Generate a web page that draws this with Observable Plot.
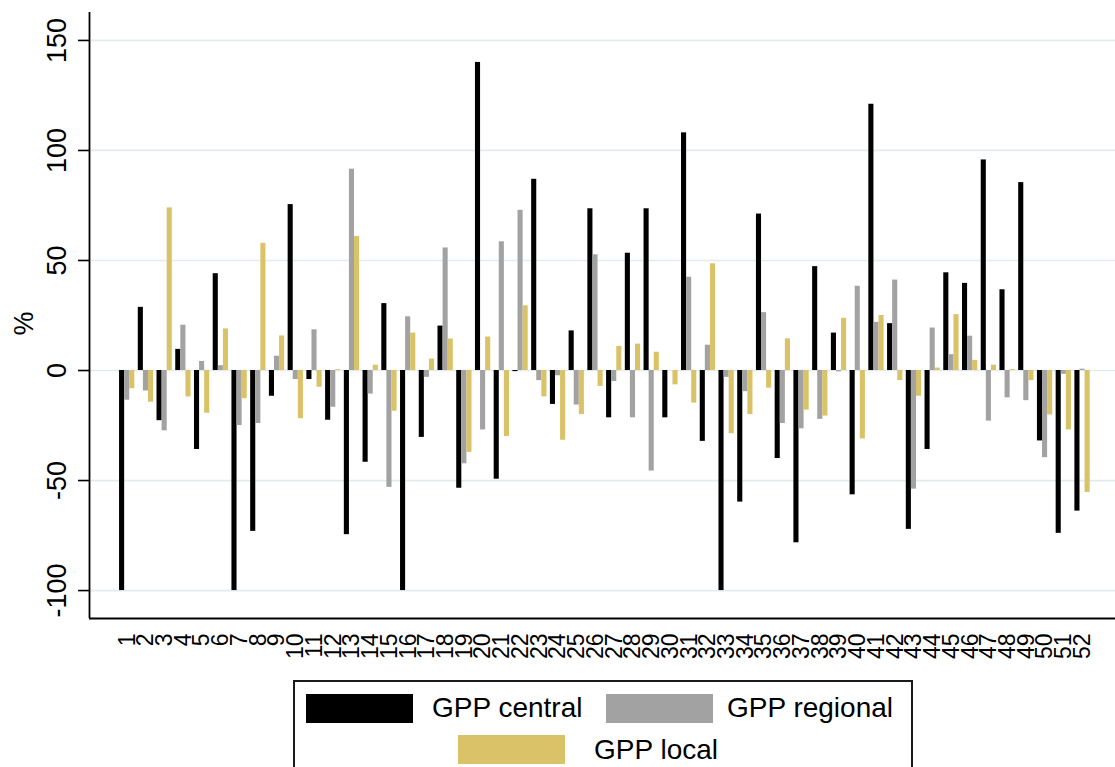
<!DOCTYPE html>
<html>
<head>
<meta charset="utf-8">
<script src="https://cdn.jsdelivr.net/npm/d3@7"></script>
<script src="https://cdn.jsdelivr.net/npm/@observablehq/plot@0.6"></script>
<style>
html, body { margin: 0; padding: 0; background: #fff; overflow: hidden; }
#wrap { position: relative; width: 1115px; height: 767px; font-family: "Liberation Sans", Arial, sans-serif; }
#chart svg { display: block; }
#legend { position: absolute; left: 293px; top: 680px; width: 620px; height: 110px; border: 2px solid #1a1a1a; box-sizing: border-box; }
.sw { position: absolute; width: 107px; height: 29px; }
.lt { position: absolute; font-size: 28px; line-height: 30px; color: #000; white-space: nowrap; }
</style>
</head>
<body>
<div id="wrap">
  <div id="chart"></div>
  <div id="legend"></div>
</div>
<script>
// ---- data ----
const groups = [1,2,3,4,5,6,7,8,9,10,11,12,13,14,15,16,17,18,19,20,21,22,23,24,25,26,
                27,28,29,30,31,32,33,34,35,36,37,38,39,40,41,42,43,44,45,46,47,48,49,50,51,52];
const seriesNames = ["GPP central", "GPP regional", "GPP local"];
const seriesColors = ["#000000", "#a2a2a2", "#d9c267"];
const central = [-100, 28.7, -22.8, 9.6, -35.9, 44, -100, -73.1, -11.7, 75.4, -4.1, -22.6, -74.6,
                 -41.7, 30.4, -100, -30.4, 20.2, -53.5, 140, -49.4, -0.5, 86.9, -15.4, 18, 73.5, -21.5, 53.3,
                 73.5, -21.5, 108, -32.2, -100, -59.8, 71.1, -40, -78.3, 47.2, 17, -56.5, 121, 21.3,
                 -72.2, -35.9, 44.4, 39.6, 95.7, 36.7, 85.4, -32, -74, -63.9];
const regional = [-13.5, -9.3, -27.4, 20.6, 4.1, 2.2, -25, -24.1, 6.5, -4.1, 18.5, -16.7, 91.5,
                  -10.7, -53.1, 24.4, -3.1, 55.7, -42.4, -27, 58.5, 72.8, -4.6, -2.4, -15.7, 52.6, -5, -21.5,
                  -45.7, 0, 42.4, 11.5, -3.1, -9.6, 26.3, -24.1, -26.5, -22.2, -0.6, 38.3, 21.9, 41.1,
                  -53.9, 19.3, 7.2, 15.6, -23, -12.4, -13.7, -39.6, -1.7, 0.6];
const local = [-8.3, -14.4, 73.9, -12, -19.4, 18.9, -12.8, 57.8, 15.7, -21.9, -7.6, 0.4, 60.9,
               2.4, -18.5, 17, 5.2, 14.3, -37.2, 15.2, -30, 29.4, -12, -31.7, -20, -7.2, 10.9, 12,
               8.3, -6.5, -14.8, 48.5, -28.7, -20, -8, 14.4, -18, -20.7, 23.7, -31.1, 25, -4.6,
               -11.7, 1.1, 25.4, 4.6, 2.4, 0.4, -4.6, -20.2, -27, -55.4];
const yTicks = [-100, -50, 0, 50, 100, 150];
const yLabel = "%";

// ---- layout ----
const xDomain = [-1.012, 53.76];
const yDomain = [-112.7, 162.7];
const barOffsets = [-0.272, 0, 0.272];
const barHalf = 0.136;

const seriesValues = [central, regional, local];
const rows = [];
groups.forEach((g, i) => {
  seriesValues.forEach((vals, k) => {
    rows.push({group: g, k, series: seriesNames[k], value: vals[i]});
  });
});

const chart = Plot.plot({
  width: 1115,
  height: 680,
  marginLeft: 89,
  marginRight: 0,
  marginTop: 12,
  marginBottom: 62,
  style: {background: "transparent", fontFamily: "'Liberation Sans', Arial, sans-serif", color: "#000"},
  x: {domain: xDomain, axis: null},
  y: {domain: yDomain, ticks: yTicks, tickSize: 11, tickFormat: () => "", label: null},
  color: {domain: seriesNames, range: seriesColors},
  marks: [
    Plot.ruleY(yTicks, {stroke: "#e3ebee", strokeWidth: 1.7}),
    Plot.rect(rows, {
      x1: d => d.group + barOffsets[d.k] - barHalf,
      x2: d => d.group + barOffsets[d.k] + barHalf,
      y1: () => 0,
      y2: "value",
      fill: "series"
    }),
    Plot.ruleX([xDomain[0]], {stroke: "#000", strokeWidth: 1.8}),
    Plot.ruleY([yDomain[0]], {stroke: "#000", strokeWidth: 1.8}),
    Plot.text(yTicks, {y: d => d, text: d => String(d), frameAnchor: "left", dx: -24,
      rotate: -90, textAnchor: "middle", lineAnchor: "bottom", fontSize: 27, fill: "#000"}),
    Plot.text(groups, {x: d => d, text: d => String(d), frameAnchor: "bottom", dy: 15,
      rotate: -90, textAnchor: "end", lineAnchor: "middle", fontSize: 23, fill: "#000"}),
    Plot.text([yLabel], {text: d => d, frameAnchor: "left", dx: -57, dy: 8,
      rotate: -90, textAnchor: "middle", lineAnchor: "bottom", fontSize: 27, fill: "#000"})
  ]
});
chart.querySelectorAll("g[aria-label='y-axis'] line, g[aria-label='y-axis tick'] path").forEach(l => l.setAttribute("stroke-width", "1.6"));
document.getElementById("chart").appendChild(chart);

// ---- legend ----
const legendPos = [
  {sx: 11, sy: 12, tx: 137, ty: 11},
  {sx: 311, sy: 12, tx: 432, ty: 11},
  {sx: 163, sy: 53, tx: 299, ty: 53}
];
const legend = document.getElementById("legend");
seriesNames.forEach((name, k) => {
  const p = legendPos[k];
  const sw = document.createElement("div");
  sw.className = "sw";
  sw.style.left = p.sx + "px";
  sw.style.top = p.sy + "px";
  sw.style.background = seriesColors[k];
  legend.appendChild(sw);
  const t = document.createElement("div");
  t.className = "lt";
  t.style.left = p.tx + "px";
  t.style.top = p.ty + "px";
  t.textContent = name;
  legend.appendChild(t);
});
</script>
</body>
</html>
